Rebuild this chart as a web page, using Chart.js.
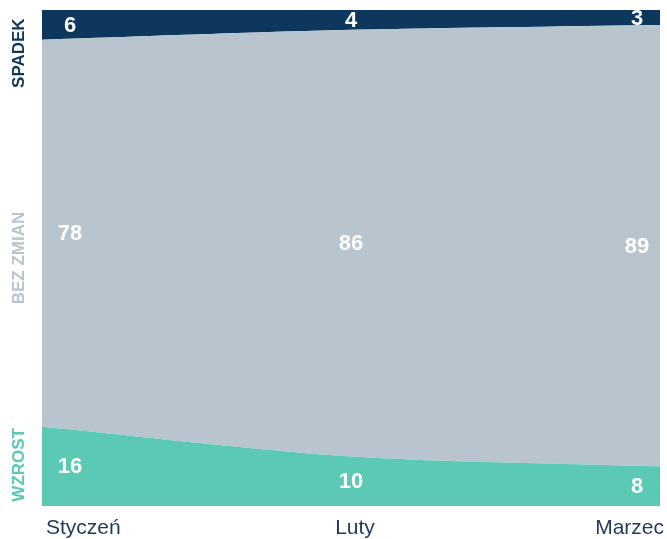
<!DOCTYPE html>
<html>
<head>
<meta charset="utf-8">
<script src="https://cdn.jsdelivr.net/npm/chart.js@4/dist/chart.umd.min.js"></script>
<style>
  body { margin: 0; background: #fff; }
  #wrap { width: 667px; height: 539px; }
</style>
</head>
<body>
<div id="wrap"><canvas id="chart" width="667" height="539"></canvas></div>
<script>
const months = ["Styczeń", "Luty", "Marzec"];
const wzrost = [16, 10, 8];
const bezZmian = [78, 86, 89];
const spadek = [6, 4, 3];
const seriesNames = ["WZROST", "BEZ ZMIAN", "SPADEK"];
const seriesColors = ["#5bc9b4", "#b8c4ce", "#0d375c"];
const nameColors = ["#5bc9b4", "#b8c4ce", "#0d375c"];

// white value labels in the middle of each band
const valueLabels = {
    id: "valueLabels",
    afterDatasetsDraw(chart) {
        const ctx = chart.ctx;
        const area = chart.chartArea;
        ctx.save();
        ctx.font = "bold 22px 'Liberation Sans', Arial, sans-serif";
        ctx.fillStyle = "#fff";
        ctx.textAlign = "center";
        ctx.textBaseline = "middle";
        chart.data.datasets.forEach((ds, d) => {
            const meta = chart.getDatasetMeta(d);
            meta.data.forEach((pt, i) => {
                const base = d === 0 ? area.bottom : chart.getDatasetMeta(d - 1).data[i].y;
                const y = (pt.y + base) / 2;
                let x = pt.x;
                if (i === 0) x += 28;
                if (i === meta.data.length - 1) x -= 23;
                ctx.fillText(ds.data[i], x, y + 1);
            });
        });
        ctx.restore();
    }
};

// rotated series names on the left side
const sideNames = {
    id: "sideNames",
    afterDraw(chart) {
        const ctx = chart.ctx;
        const area = chart.chartArea;
        const h = area.bottom - area.top;
        ctx.save();
        ctx.font = "bold 17px 'Liberation Sans', Arial, sans-serif";
        ctx.textAlign = "center";
        ctx.textBaseline = "middle";
        const centers = [area.bottom - h * 0.083, area.top + h * 0.5, area.top + h * 0.087];
        seriesNames.forEach((name, i) => {
            ctx.save();
            ctx.translate(19, centers[i]);
            ctx.rotate(-Math.PI / 2);
            ctx.fillStyle = nameColors[i];
            ctx.fillText(name, 0, 0);
            ctx.restore();
        });
        ctx.restore();
    }
};

const values = [wzrost, bezZmian, spadek];

new Chart(document.getElementById("chart"), {
    type: "line",
    data: {
        labels: months,
        datasets: values.map((v, i) => ({
            label: seriesNames[i],
            data: v,
            backgroundColor: seriesColors[i],
            borderWidth: 0,
            pointRadius: 0,
            tension: 0.3,
            fill: i === 0 ? "origin" : "-1"
        }))
    },
    options: {
        responsive: false,
        animation: false,
        layout: { padding: { left: 42, top: 10, right: 7, bottom: 0 } },
        plugins: { legend: { display: false }, tooltip: { enabled: false } },
        scales: {
            x: {
                grid: { display: false },
                border: { display: false },
                afterFit(scale) { scale.height = 33; },
                ticks: {
                    align: "inner",
                    labelOffset: 4,
                    padding: 2,
                    color: "#1d3a5c",
                    font: { size: 21, family: "'Liberation Sans', Arial, sans-serif" }
                }
            },
            y: {
                stacked: true,
                display: false,
                min: 0,
                max: 100
            }
        }
    },
    plugins: [valueLabels, sideNames]
});
</script>
</body>
</html>
